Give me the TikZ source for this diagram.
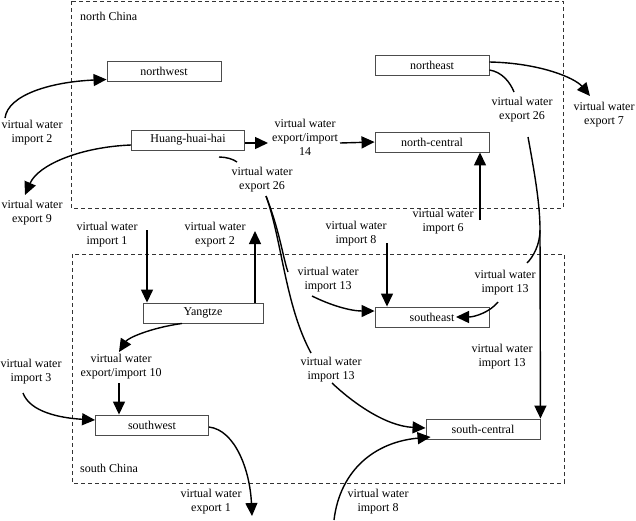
\documentclass[tikz,border=0pt]{standalone}
\usepackage{fontspec}
\setmainfont{Liberation Serif}
\usetikzlibrary{arrows.meta}
\begin{document}
\begin{tikzpicture}[x=1pt,y=-1pt,
 region/.style={draw=black!80, line width=0.8pt, dash pattern=on 4pt off 3pt},
 box/.style={draw=black!70, line width=0.9pt, minimum width=114pt, minimum height=20pt, inner sep=0pt, font=\fontsize{12}{14}\selectfont},
 lab/.style={align=center, inner sep=0pt, font=\fontsize{12}{14}\selectfont},
 flow/.style={line width=1.4pt, -{Triangle[length=13pt,width=12pt]}},
 link/.style={line width=1.4pt}]
\useasboundingbox (0,0) rectangle (636,520);
% regions
\draw[region] (71,1) rectangle (563,208);
\draw[region] (72,254) rectangle (564,483);
\node[lab, anchor=west] (northlab) at (80,16) {north China};
\node[lab, anchor=west] (southlab) at (80,468) {south China};
% boxes
\node[box] (nw) at (164,71) {northwest};
\node[box, minimum width=113pt] (hhh) at (188,140) {Huang-huai-hai};
\node[box] (ne) at (432,65) {northeast};
\node[box] (nc) at (432,142) {north-central};
\node[box, minimum width=120pt] (yz) at (203,313) {Yangtze};
\node[box, minimum width=113pt] (sw) at (152,425) {southwest};
\node[box] (se) at (432,317) {southeast};
\node[box] (sc) at (483,429) {south-central};
% labels
\node[lab] (imp2) at (32,133) {virtual water\\import 2};
\node[lab] (exp9) at (32,213) {virtual water\\export 9};
\node[lab] (ei14) at (305,137) {virtual water\\export/import\\14};
\node[lab] (exp26a) at (262,180) {virtual water\\export 26};
\node[lab] (exp26b) at (522,110) {virtual water\\export 26};
\node[lab] (exp7) at (604,115) {virtual water\\export 7};
\node[lab] (imp6) at (443,222) {virtual water\\import 6};
\node[lab] (imp8a) at (356,234) {virtual water\\import 8};
\node[lab] (imp1) at (107,235) {virtual water\\import 1};
\node[lab] (exp2) at (215,235) {virtual water\\export 2};
\node[lab] (imp13a) at (328,280) {virtual water\\import 13};
\node[lab] (imp13b) at (505,283) {virtual water\\import 13};
\node[lab] (imp13c) at (502,357) {virtual water\\import 13};
\node[lab] (imp13d) at (331,370) {virtual water\\import 13};
\node[lab] (ei10) at (121,367) {virtual water\\export/import 10};
\node[lab] (imp3) at (31,372) {virtual water\\import 3};
\node[lab] (exp1) at (211,502) {virtual water\\export 1};
\node[lab] (imp8b) at (378,502) {virtual water\\import 8};
% free-end coordinates
\coordinate (c2) at (5,118);
\coordinate (c9) at (25,195);
\coordinate (c14a) at (268,143);
\coordinate (c14b) at (340,143);
\coordinate (c26a) at (219,157);
\coordinate (c26b) at (237,162);
\coordinate (c26c) at (266,196);
\coordinate (c26d) at (288,272);
\coordinate (c26e) at (311,353);
\coordinate (c13a) at (312,296);
\coordinate (c13d) at (332,383);
\coordinate (c8b) at (334,520);
\coordinate (c7) at (590,96);
\coordinate (cne) at (514,92);
\coordinate (c26f) at (528,137);
\coordinate (cj) at (540,230);
\coordinate (c26g) at (527,263);
\coordinate (c13b) at (498,302);
\coordinate (c6) at (480,220);
\coordinate (c8a) at (387,243);
\coordinate (c1) at (147,230);
\coordinate (c2e) at (255,231);
\coordinate (c10a) at (119,352);
\coordinate (c10b) at (119,383);
\coordinate (c3) at (23,393);
\coordinate (c1e) at (252,516);
% connectors
\draw[flow] (c2) .. controls (8,95) and (50,82) .. ([yshift=2pt]nw.south west);
\draw[flow] ([yshift=-5pt]hhh.west) .. controls (80,147) and (38,165) .. (c9);
\draw[flow] ([yshift=-3pt]hhh.east) -- (c14a);
\draw[flow] (c14b) -- (nc.west);
\draw[link] (c26a) .. controls (226,157) and (233,159) .. (c26b);
\draw[link] (c26c) .. controls (280,232) and (283,258) .. (c26d);
\draw[link] (c26c) .. controls (282,240) and (285,305) .. (c26e);
\draw[flow] (c13a) .. controls (330,305) and (350,311) .. ([yshift=6pt]se.west);
\draw[flow] (c13d) .. controls (352,402) and (385,426) .. ([yshift=1pt]sc.west);
\draw[flow] (c8b) .. controls (340,470) and (375,442) .. ([xshift=5pt,yshift=-8pt]sc.west);
\draw[flow] ([yshift=3pt]ne.east) .. controls (540,63) and (575,78) .. (c7);
\draw[link] ([yshift=-5pt]ne.east) .. controls (502,72) and (510,82) .. (cne);
\draw[link] (c26f) .. controls (535,175) and (540,205) .. (cj);
\draw[flow] (cj) -- (sc.north east);
\draw[link] (cj) .. controls (540,245) and (533,257) .. (c26g);
\draw[flow] (c13b) .. controls (490,312) and (475,317) .. ([xshift=24pt]se.center);
\draw[flow] (c6) -- (c6 |- nc.south);
\draw[flow] (c8a) -- (c8a |- se.north);
\draw[flow] (c1) -- (c1 |- yz.north);
\draw[flow] (c2e |- yz.north) -- (c2e);
\draw[flow] ([xshift=-21pt]yz.south) .. controls (150,328) and (128,338) .. (c10a);
\draw[flow] (c10b) -- (c10b |- sw.north);
\draw[flow] (c3) .. controls (30,412) and (60,418) .. ([yshift=5pt]sw.west);
\draw[flow] ([yshift=-2pt]sw.east) .. controls (235,430) and (250,470) .. (c1e);
\end{tikzpicture}
\end{document}
